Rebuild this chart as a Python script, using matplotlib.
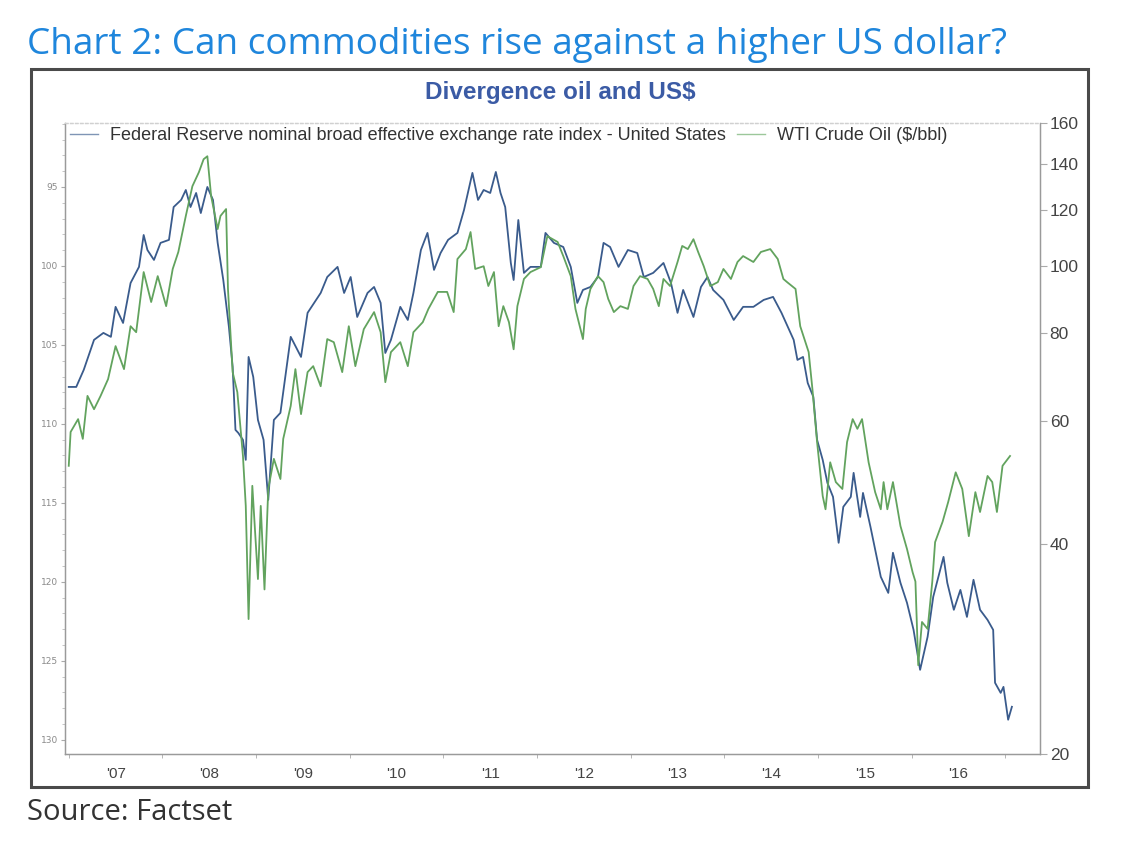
import matplotlib
matplotlib.use('Agg')
import matplotlib.pyplot as plt
from matplotlib.patches import Rectangle
from matplotlib.ticker import FixedLocator, NullFormatter, MultipleLocator, FixedFormatter

# ---------------- data ----------------
usd_dates = [2007.00, 2007.08, 2007.16, 2007.27, 2007.37, 2007.45, 2007.50, 2007.58, 2007.66, 2007.75,
             2007.80, 2007.84, 2007.91, 2007.98, 2008.07, 2008.12, 2008.20, 2008.25, 2008.30, 2008.36,
             2008.41, 2008.48, 2008.54, 2008.59, 2008.65, 2008.71, 2008.75, 2008.78, 2008.81, 2008.86,
             2008.89, 2008.92, 2008.97, 2009.02, 2009.08, 2009.13, 2009.19, 2009.26, 2009.37, 2009.48,
             2009.55, 2009.69, 2009.76, 2009.87, 2009.94, 2010.01, 2010.08, 2010.19, 2010.26, 2010.33,
             2010.38, 2010.44, 2010.54, 2010.62, 2010.68, 2010.76, 2010.83, 2010.90, 2010.97, 2011.05,
             2011.15, 2011.22, 2011.31, 2011.37, 2011.43, 2011.50, 2011.56, 2011.61, 2011.66, 2011.72,
             2011.75, 2011.80, 2011.86, 2011.93, 2012.04, 2012.09, 2012.18, 2012.28, 2012.36, 2012.43,
             2012.49, 2012.57, 2012.65, 2012.71, 2012.78, 2012.87, 2012.97, 2013.07, 2013.14, 2013.24,
             2013.35, 2013.43, 2013.50, 2013.56, 2013.67, 2013.75, 2013.82, 2013.88, 2013.99, 2014.10,
             2014.20, 2014.31, 2014.42, 2014.52, 2014.61, 2014.74, 2014.78, 2014.84, 2014.89, 2014.95,
             2014.99, 2015.05, 2015.10, 2015.16, 2015.22, 2015.27, 2015.35, 2015.38, 2015.45, 2015.48,
             2015.56, 2015.67, 2015.75, 2015.80, 2015.88, 2015.95, 2016.02, 2016.09, 2016.17, 2016.23,
             2016.34, 2016.38, 2016.45, 2016.52, 2016.59, 2016.66, 2016.73, 2016.81, 2016.87, 2016.89,
             2016.95, 2016.98, 2017.03, 2017.07]
usd_values = [107.66, 107.66, 106.58, 104.68, 104.24, 104.49, 102.59, 103.61, 101.08, 100.06,
              98.04, 98.99, 99.62, 98.54, 98.35, 96.27, 95.82, 95.19, 96.27, 95.38,
              96.65, 95.00, 95.82, 98.54, 100.89, 103.86, 106.39, 110.38, 110.57, 111.01,
              112.28, 105.76, 107.03, 109.75, 111.01, 114.81, 109.75, 109.30, 104.49, 105.76,
              102.97, 101.71, 100.70, 100.06, 101.71, 100.70, 103.23, 101.71, 101.33, 102.34,
              105.51, 104.68, 102.59, 103.42, 101.71, 98.99, 97.91, 100.25, 99.18, 98.35,
              97.91, 96.46, 94.11, 95.82, 95.19, 95.38, 94.05, 95.38, 96.27, 99.81,
              100.89, 97.09, 100.44, 100.06, 100.06, 97.91, 98.54, 98.80, 100.06, 102.34,
              101.52, 101.33, 100.70, 98.54, 98.80, 100.06, 98.99, 99.18, 100.70, 100.44,
              99.81, 101.08, 102.97, 101.52, 103.23, 101.33, 100.70, 101.52, 102.15, 103.42,
              102.59, 102.59, 102.15, 101.96, 102.97, 104.68, 105.95, 105.76, 107.41, 108.29,
              111.01, 112.28, 113.73, 114.62, 117.53, 115.25, 114.62, 113.10, 115.89, 114.37,
              116.52, 119.68, 120.70, 118.16, 120.06, 121.33, 123.04, 125.57, 123.48, 120.95,
              118.42, 120.06, 121.77, 120.51, 122.22, 119.87, 121.77, 122.41, 123.04, 126.39,
              127.03, 126.65, 128.73, 127.91]

oil_dates = [2007.00, 2007.02, 2007.10, 2007.15, 2007.20, 2007.27, 2007.34, 2007.42, 2007.50, 2007.59,
             2007.66, 2007.72, 2007.80, 2007.88, 2007.95, 2008.04, 2008.11, 2008.17, 2008.25, 2008.32,
             2008.39, 2008.44, 2008.48, 2008.52, 2008.59, 2008.62, 2008.68, 2008.70, 2008.75, 2008.80,
             2008.86, 2008.89, 2008.92, 2008.96, 2009.02, 2009.05, 2009.09, 2009.13, 2009.19, 2009.26,
             2009.29, 2009.37, 2009.42, 2009.48, 2009.55, 2009.61, 2009.69, 2009.76, 2009.83, 2009.92,
             2009.99, 2010.06, 2010.15, 2010.26, 2010.33, 2010.38, 2010.44, 2010.54, 2010.62, 2010.68,
             2010.78, 2010.84, 2010.94, 2011.04, 2011.11, 2011.15, 2011.24, 2011.29, 2011.34, 2011.43,
             2011.48, 2011.54, 2011.59, 2011.64, 2011.70, 2011.75, 2011.79, 2011.86, 2011.93, 2012.04,
             2012.11, 2012.22, 2012.28, 2012.36, 2012.41, 2012.49, 2012.52, 2012.57, 2012.65, 2012.71,
             2012.76, 2012.82, 2012.89, 2012.97, 2013.03, 2013.10, 2013.18, 2013.24, 2013.30, 2013.35,
             2013.42, 2013.50, 2013.55, 2013.61, 2013.67, 2013.72, 2013.78, 2013.85, 2013.93, 2013.99,
             2014.07, 2014.14, 2014.20, 2014.31, 2014.39, 2014.49, 2014.57, 2014.63, 2014.67, 2014.76,
             2014.81, 2014.90, 2014.94, 2014.99, 2015.05, 2015.08, 2015.13, 2015.19, 2015.26, 2015.31,
             2015.37, 2015.42, 2015.47, 2015.54, 2015.61, 2015.67, 2015.70, 2015.74, 2015.80, 2015.88,
             2015.95, 2016.01, 2016.04, 2016.07, 2016.11, 2016.17, 2016.22, 2016.25, 2016.33, 2016.39,
             2016.47, 2016.54, 2016.61, 2016.68, 2016.73, 2016.81, 2016.86, 2016.91, 2016.97, 2017.05]
oil_values = [51.7, 57.8, 60.3, 56.5, 65.1, 62.3, 65.1, 68.8, 76.7, 71.1,
              81.9, 80.3, 97.9, 88.7, 96.6, 87.5, 98.9, 104.6, 117.8, 129.9,
              136.1, 142.0, 143.4, 125.8, 112.8, 117.8, 120.5, 92.6, 70.4, 65.9,
              53.4, 45.3, 31.2, 48.4, 35.6, 45.3, 34.4, 47.9, 52.9, 49.5,
              56.5, 63.0, 71.1, 61.3, 70.4, 71.8, 67.2, 78.5, 77.7, 70.4,
              81.9, 71.8, 81.1, 85.8, 80.3, 68.1, 75.2, 77.7, 71.8, 80.3,
              83.0, 86.7, 91.7, 91.7, 85.8, 102.2, 105.6, 111.7, 98.9, 99.8,
              93.5, 97.9, 81.9, 87.5, 83.0, 75.9, 87.5, 95.7, 97.9, 99.5,
              110.2, 108.1, 103.2, 96.6, 86.7, 78.5, 86.7, 92.6, 96.6, 94.7,
              89.6, 85.8, 87.5, 86.7, 93.5, 96.6, 95.7, 92.6, 87.5, 95.7,
              93.5, 101.2, 106.7, 105.6, 109.1, 104.6, 99.8, 93.5, 94.7, 98.9,
              95.7, 101.2, 103.2, 101.2, 104.6, 105.6, 102.2, 95.7, 94.7, 92.6,
              81.9, 75.2, 66.6, 55.9, 46.8, 44.8, 52.3, 49.0, 47.9, 55.9,
              60.3, 58.4, 60.3, 52.3, 47.4, 44.8, 49.0, 44.8, 49.0, 42.4,
              39.3, 36.4, 35.3, 26.8, 30.9, 30.2, 35.3, 40.2, 43.0, 45.9,
              50.6, 47.9, 41.0, 47.4, 44.4, 50.0, 49.0, 44.4, 51.7, 53.4]

year_ticks = [2007.5, 2008.5, 2009.5, 2010.5, 2011.5, 2012.5, 2013.5, 2014.5, 2015.5, 2016.5]
year_labels = ["'07", "'08", "'09", "'10", "'11", "'12", "'13", "'14", "'15", "'16"]
year_bounds = [2007, 2008, 2009, 2010, 2011, 2012, 2013, 2014, 2015, 2016, 2017]
usd_ticks = [95, 100, 105, 110, 115, 120, 125, 130]
oil_ticks = [20, 40, 60, 80, 100, 120, 140, 160]

usd_label = "Federal Reserve nominal broad effective exchange rate index - United States"
oil_label = "WTI Crude Oil ($/bbl)"
main_title = "Chart 2: Can commodities rise against a higher US dollar?"
inner_title = "Divergence oil and US$"
source_text = "Source: Factset"

# ---------------- figure ----------------
W, H = 1127, 843
fig = plt.figure(figsize=(W / 100, H / 100), dpi=100)

def fx(px):
    return px / W

def fy(py):
    return 1 - py / H

# outer chart frame
fig.patches.append(Rectangle((fx(31), fy(787)), fx(1088) - fx(31), fy(69) - fy(787),
                             transform=fig.transFigure, fill=False, edgecolor='#4a4a4a', lw=2.2))

fig.text(fx(27), fy(45), main_title, fontsize=26.6, color='#1F86DC', family='Open Sans',
         va='center', ha='left')
fig.text(fx(27), fy(812), source_text, fontsize=21, color='#333333', family='Open Sans',
         va='center', ha='left')
fig.text(fx(560), fy(93), inner_title, fontsize=17.5, color='#3B5BA5', family='Liberation Sans',
         fontweight='bold', va='center', ha='center')

ax = fig.add_axes([fx(65), fy(754), fx(1040) - fx(65), fy(123) - fy(754)])
ax2 = ax.twinx()

blue = '#3A5B8C'
green = '#62A35E'
l1, = ax.plot(usd_dates, usd_values, color=blue, lw=1.3, zorder=3)
l2, = ax2.plot(oil_dates, oil_values, color=green, lw=1.3, zorder=2)

ax.set_xlim(2006.96, 2017.37)
ax.set_ylim(130.9, 90.95)
ax2.set_yscale('log')
ax2.set_ylim(20, 160)

# left axis
ax.yaxis.set_major_locator(FixedLocator(usd_ticks))
ax.yaxis.set_minor_locator(MultipleLocator(1))
ax.tick_params(axis='y', which='major', direction='out', length=3, labelsize=6.5,
               labelcolor='#8a8a8a', color='#aaaaaa', pad=2)
ax.tick_params(axis='y', which='minor', direction='out', length=2, color='#bbbbbb')

# bottom axis
ax.xaxis.set_major_locator(FixedLocator(year_ticks))
ax.xaxis.set_major_formatter(FixedFormatter(year_labels))
ax.xaxis.set_minor_locator(FixedLocator(year_bounds))
ax.tick_params(axis='x', which='major', length=0, labelsize=11, labelcolor='#444444', pad=9)
ax.tick_params(axis='x', which='minor', direction='out', length=3, color='#aaaaaa')
for lab in ax.get_xticklabels():
    lab.set_family('Liberation Sans')

# right axis
ax2.yaxis.set_major_locator(FixedLocator(oil_ticks))
ax2.yaxis.set_major_formatter(FixedFormatter([str(v) for v in oil_ticks]))
ax2.yaxis.set_minor_formatter(NullFormatter())
ax2.yaxis.set_minor_locator(FixedLocator([]))
ax2.tick_params(axis='y', which='major', direction='out', length=5, labelsize=12.5,
                labelcolor='#444444', color='#aaaaaa', pad=2)
for lab in ax2.get_yticklabels():
    lab.set_family('Liberation Sans')

for a in (ax, ax2):
    a.spines['left'].set_color('#9a9a9a')
    a.spines['bottom'].set_color('#9a9a9a')
    a.spines['right'].set_color('#9a9a9a')
    a.spines['top'].set_color('#d0d0d0')
    a.spines['top'].set_linestyle((0, (2, 2)))
    for s in a.spines.values():
        s.set_linewidth(0.9)

leg = ax2.legend([l1, l2], [usd_label, oil_label], loc='center left',
                 bbox_to_anchor=(fx(70), fy(136)), bbox_transform=fig.transFigure,
                 ncol=2, frameon=False, handlelength=1.55, handletextpad=0.66,
                 columnspacing=0.6, borderpad=0, borderaxespad=0,
                 prop={'family': 'Liberation Sans', 'size': 13})
leg_colors = ['#7F95B5', '#9CC79A']
for h, c in zip(leg.get_lines(), leg_colors):
    h.set_linewidth(1.0)
    h.set_color(c)
for t in leg.get_texts():
    t.set_color('#333333')

fig.savefig('out.png', dpi=100)
